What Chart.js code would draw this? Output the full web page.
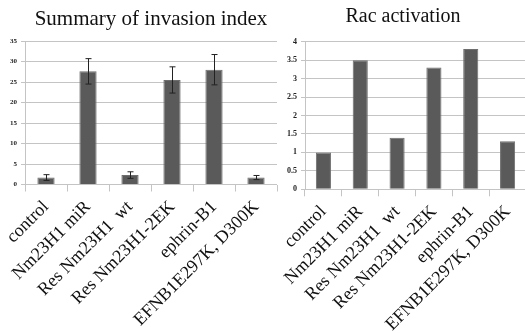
<!DOCTYPE html>
<html>
<head>
<meta charset="utf-8">
<script src="https://cdn.jsdelivr.net/npm/chart.js@4.4.1/dist/chart.umd.min.js"></script>
<style>
  html, body { margin: 0; padding: 0; background: #fff; overflow: hidden; }
  body { width: 525px; height: 333px; position: relative; }
  .box { position: absolute; top: 0; height: 333px; }
  #box-left { left: 0; width: 280px; }
  #box-right { left: 280px; width: 250px; }
</style>
</head>
<body>
<div class="box" id="box-left"><canvas id="invasion-chart"></canvas></div>
<div class="box" id="box-right"><canvas id="rac-chart"></canvas></div>
<script>
// dados
const categories = ['control', 'Nm23H1 miR', 'Res Nm23H1  wt', 'Res Nm23H1-2EK', 'ephrin-B1', 'EFNB1E297K, D300K'];
const invasionValues = [1.7, 27.6, 2.3, 25.5, 28.0, 1.7];
const invasionErrors = [0.7, 3.1, 0.8, 3.2, 3.7, 0.5];
const invasionTicks = [0, 5, 10, 15, 20, 25, 30, 35];
const racValues = [1.0, 3.5, 1.4, 3.3, 3.8, 1.3];
const racTicks = [0, 0.5, 1, 1.5, 2, 2.5, 3, 3.5, 4];

const serif = "'Liberation Serif', 'Times New Roman', serif";
const barColor = '#5a5a5a';
const gridColor = '#c4c4c4';

// barras de erro desenhadas com as escalas do Chart.js
const errorBarsPlugin = {
    id: 'errorBars',
    afterDatasetsDraw(chart, args, opts) {
        if (!opts.errors) return;
        const { ctx, scales } = chart;
        const meta = chart.getDatasetMeta(0);
        const values = chart.data.datasets[0].data;
        ctx.save();
        ctx.strokeStyle = '#222';
        ctx.lineWidth = 1;
        meta.data.forEach((bar, i) => {
            const err = opts.errors[i];
            const x = Math.round(bar.x) + 0.5;
            const yTop = scales.y.getPixelForValue(values[i] + err);
            const yBot = scales.y.getPixelForValue(values[i] - err);
            ctx.beginPath();
            ctx.moveTo(x, yTop);
            ctx.lineTo(x, yBot);
            ctx.moveTo(x - 3, yTop);
            ctx.lineTo(x + 3, yTop);
            ctx.moveTo(x - 3, yBot);
            ctx.lineTo(x + 3, yBot);
            ctx.stroke();
        });
        ctx.restore();
    }
};

function buildChart(canvasId, title, values, ticks, opts) {
    const max = ticks[ticks.length - 1];
    return new Chart(document.getElementById(canvasId), {
        type: 'bar',
        data: {
            labels: categories,
            datasets: [{
                data: values,
                backgroundColor: barColor,
                borderColor: '#6e6e6e',
                borderWidth: 1,
                barPercentage: 0.41,
                categoryPercentage: 1
            }]
        },
        options: {
            responsive: true,
            maintainAspectRatio: false,
            animation: false,
            layout: { padding: { left: 0, right: opts.rightPad, top: 0, bottom: 0 } },
            plugins: {
                legend: { display: false },
                tooltip: { enabled: false },
                title: {
                    display: true,
                    fullSize: opts.titleFull,
                    text: title,
                    color: '#111',
                    font: { family: serif, size: opts.titleSize, weight: 'normal', lineHeight: 1.2 },
                    padding: opts.titlePad
                },
                errorBars: { errors: opts.errors }
            },
            scales: {
                x: {
                    grid: { drawOnChartArea: false, tickLength: 7, color: gridColor },
                    border: { display: false },
                    ticks: {
                        color: '#111',
                        minRotation: 45,
                        maxRotation: 45,
                        padding: 5,
                        font: { family: serif, size: 18 }
                    },
                    afterFit(scale) { scale.height = opts.xHeight; }
                },
                y: {
                    min: 0,
                    max: max,
                    afterBuildTicks(scale) { scale.ticks = ticks.map(v => ({ value: v })); },
                    grid: { color: gridColor, tickLength: 4 },
                    border: { display: true, color: gridColor },
                    ticks: {
                        color: '#222',
                        padding: 4,
                        font: { family: serif, size: opts.tickSize, weight: 'bold' },
                        callback: v => String(v)
                    },
                    afterFit(scale) { scale.width = 25; }
                }
            }
        },
        plugins: [errorBarsPlugin]
    });
}

buildChart('invasion-chart', 'Summary of invasion index', invasionValues, invasionTicks, {
    rightPad: 3,
    titleFull: false,
    titleSize: 21,
    titlePad: { top: 7, bottom: 8.8 },
    xHeight: 148.5,
    tickSize: 7,
    errors: invasionErrors
});

buildChart('rac-chart', 'Rac activation', racValues, racTicks, {
    rightPad: 4,
    titleFull: true,
    titleSize: 20,
    titlePad: { top: 5, bottom: 12.7 },
    xHeight: 143.7,
    tickSize: 8,
    errors: null
});
</script>
</body>
</html>
